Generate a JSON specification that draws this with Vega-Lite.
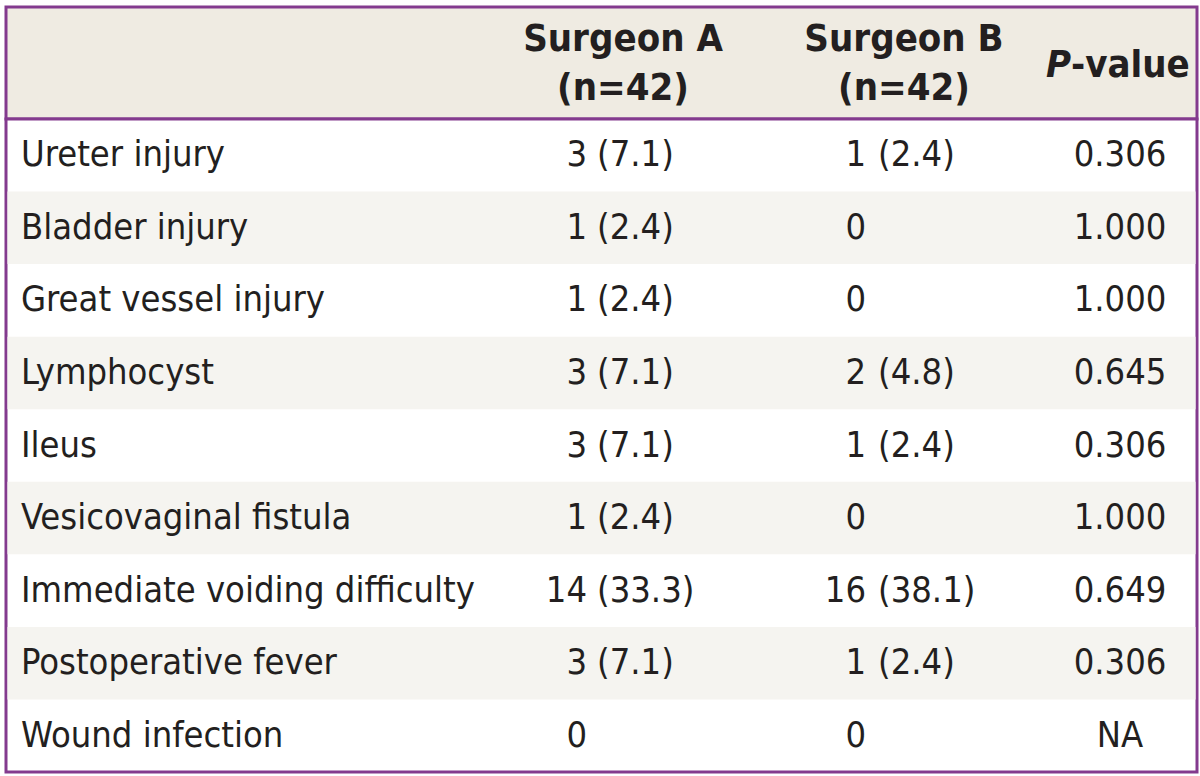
{
  "$schema": "https://vega.github.io/schema/vega-lite/v6.json",
  "padding": {"left": 4, "top": 5, "right": 0, "bottom": 0},
  "background": "white",
  "bounds": "flush",
  "config": {"font": "DejaVu Sans Condensed", "view": {"strokeWidth": 3}},
  "spacing": 0,
  "vconcat": [
    {
      "width": 1191,
      "height": 112,
      "view": {"fill": "#efebe2", "stroke": "#833a8e", "strokeWidth": 3},
      "data": {"values": [{"col": "A", "title": "Surgeon A\n(n=42)"}, {"col": "B", "title": "Surgeon B\n(n=42)"}]},
      "layer": [
        {
          "transform": [{"filter": "datum.col === 'A'"}],
          "mark": {"type": "text", "fontSize": 38, "fontWeight": "bold", "color": "#231f20", "align": "center", "baseline": "alphabetic", "lineBreak": "\n", "lineHeight": 49},
          "encoding": {"x": {"value": 617}, "y": {"value": 44}, "text": {"field": "title"}}
        },
        {
          "transform": [{"filter": "datum.col === 'B'"}],
          "mark": {"type": "text", "fontSize": 38, "fontWeight": "bold", "color": "#231f20", "align": "center", "baseline": "alphabetic", "lineBreak": "\n", "lineHeight": 49},
          "encoding": {"x": {"value": 898}, "y": {"value": 44}, "text": {"field": "title"}}
        },
        {
          "data": {"values": [{"t": "P"}]},
          "mark": {"type": "text", "fontSize": 38, "fontWeight": "bold", "fontStyle": "italic", "color": "#231f20", "align": "right", "baseline": "alphabetic"},
          "encoding": {"x": {"value": 1065}, "y": {"value": 70}, "text": {"field": "t"}}
        },
        {
          "data": {"values": [{"t": "-value"}]},
          "mark": {"type": "text", "fontSize": 38, "fontWeight": "bold", "color": "#231f20", "align": "left", "baseline": "alphabetic"},
          "encoding": {"x": {"value": 1065}, "y": {"value": 70}, "text": {"field": "t"}}
        }
      ]
    },
    {
      "width": 1191,
      "height": 653,
      "view": {"fill": "white", "stroke": "#833a8e", "strokeWidth": 3},
      "data": {
        "values": [
          {"idx": 1, "Complication": "Ureter injury", "countA": "3", "pctA": "(7.1)", "countB": "1", "pctB": "(2.4)", "p": "0.306"},
          {"idx": 2, "Complication": "Bladder injury", "countA": "1", "pctA": "(2.4)", "countB": "0", "pctB": "", "p": "1.000"},
          {"idx": 3, "Complication": "Great vessel injury", "countA": "1", "pctA": "(2.4)", "countB": "0", "pctB": "", "p": "1.000"},
          {"idx": 4, "Complication": "Lymphocyst", "countA": "3", "pctA": "(7.1)", "countB": "2", "pctB": "(4.8)", "p": "0.645"},
          {"idx": 5, "Complication": "Ileus", "countA": "3", "pctA": "(7.1)", "countB": "1", "pctB": "(2.4)", "p": "0.306"},
          {"idx": 6, "Complication": "Vesicovaginal fistula", "countA": "1", "pctA": "(2.4)", "countB": "0", "pctB": "", "p": "1.000"},
          {"idx": 7, "Complication": "Immediate voiding difficulty", "countA": "14", "pctA": "(33.3)", "countB": "16", "pctB": "(38.1)", "p": "0.649"},
          {"idx": 8, "Complication": "Postoperative fever", "countA": "3", "pctA": "(7.1)", "countB": "1", "pctB": "(2.4)", "p": "0.306"},
          {"idx": 9, "Complication": "Wound infection", "countA": "0", "pctA": "", "countB": "0", "pctB": "", "p": "NA"}
        ]
      },
      "encoding": {
        "y": {
          "field": "Complication",
          "type": "nominal",
          "sort": {"field": "idx"},
          "scale": {"paddingInner": 0, "paddingOuter": 0},
          "axis": null
        }
      },
      "layer": [
        {
          "transform": [{"filter": "datum.idx % 2 === 0"}],
          "mark": {"type": "rect", "fill": "#f5f4f0"},
          "encoding": {"x": {"value": 1.5}, "x2": {"value": 1189.5}}
        },
        {
          "mark": {"type": "text", "fontSize": 36, "color": "#231f20", "align": "left", "baseline": "middle"},
          "encoding": {"x": {"value": 15}, "text": {"field": "Complication"}}
        },
        {
          "mark": {"type": "text", "fontSize": 36, "color": "#231f20", "align": "right", "baseline": "middle"},
          "encoding": {"x": {"value": 581}, "text": {"field": "countA"}}
        },
        {
          "mark": {"type": "text", "fontSize": 36, "color": "#231f20", "align": "left", "baseline": "middle"},
          "encoding": {"x": {"value": 591}, "text": {"field": "pctA"}}
        },
        {
          "mark": {"type": "text", "fontSize": 36, "color": "#231f20", "align": "right", "baseline": "middle"},
          "encoding": {"x": {"value": 860}, "text": {"field": "countB"}}
        },
        {
          "mark": {"type": "text", "fontSize": 36, "color": "#231f20", "align": "left", "baseline": "middle"},
          "encoding": {"x": {"value": 872}, "text": {"field": "pctB"}}
        },
        {
          "mark": {"type": "text", "fontSize": 36, "color": "#231f20", "align": "center", "baseline": "middle"},
          "encoding": {"x": {"value": 1114}, "text": {"field": "p"}}
        }
      ]
    }
  ]
}
